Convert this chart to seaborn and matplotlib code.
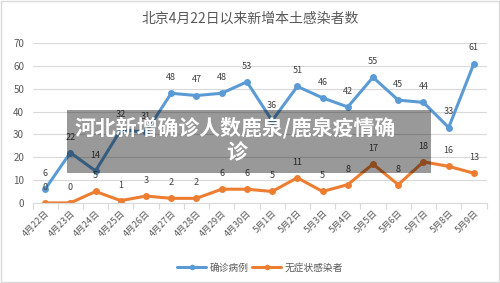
import pandas as pd
import numpy as np
import seaborn as sns
import matplotlib.pyplot as plt
from matplotlib.patches import Rectangle

dates = ['4月22日', '4月23日', '4月24日', '4月25日', '4月26日', '4月27日', '4月28日', '4月29日', '4月30日',
         '5月1日', '5月2日', '5月3日', '5月4日', '5月5日', '5月6日', '5月7日', '5月8日', '5月9日']
confirmed = [6, 22, 14, 32, 31, 48, 47, 48, 53, 36, 51, 46, 42, 55, 45, 44, 33, 61]
asymptomatic = [0, 0, 5, 1, 3, 2, 2, 6, 6, 5, 11, 5, 8, 17, 8, 18, 16, 13]
series_names = ['确诊病例', '无症状感染者']
colors = ['#5B9BD5', '#ED7D31']

sns.set_theme(style='white')
plt.rcParams['font.family'] = ['Noto Sans CJK SC', 'DejaVu Sans']

df = pd.DataFrame({
    'idx': list(range(len(dates))) * 2,
    'value': confirmed + asymptomatic,
    'series': [series_names[0]] * len(dates) + [series_names[1]] * len(dates),
})

fig = plt.figure(figsize=(5, 2.83), dpi=100)
ax = fig.add_axes([0.065, 0.283, 0.908, 0.565])

sns.lineplot(data=df, x='idx', y='value', hue='series', palette=colors,
             marker='o', markersize=5, markeredgewidth=0, linewidth=2.2, ax=ax, legend=False)

for vals, c in zip([confirmed, asymptomatic], colors):
    for i, v in enumerate(vals):
        ax.annotate(str(v), (i, v), xytext=(0, 8), textcoords='offset points',
                    ha='center', va='bottom', fontsize=6.5, color='#404040')

ax.set_xlim(-0.5, len(dates) - 0.5)
ax.set_ylim(0, 70)
ax.set_yticks(range(0, 71, 10))
ax.yaxis.grid(True, color='#D9D9D9', linewidth=0.8)
ax.set_axisbelow(True)
ax.set_xticks(range(len(dates)))
ax.set_xticklabels(dates, rotation=45, ha='right', rotation_mode='anchor', fontsize=6.5, color='#595959')
ax.set_xticks(np.arange(-0.5, len(dates), 1), minor=True)
ax.tick_params(axis='x', which='major', length=0, pad=4)
ax.tick_params(axis='x', which='minor', length=4, color='#D9D9D9', width=0.8, bottom=True)
ax.tick_params(axis='y', length=0, labelsize=7, labelcolor='#595959', pad=6)
ax.set_xlabel('')
ax.set_ylabel('')
for s in ['top', 'right', 'left']:
    ax.spines[s].set_visible(False)
ax.spines['bottom'].set_color('#D9D9D9')
ax.spines['bottom'].set_linewidth(0.8)

fig.text(0.5, 0.935, '北京4月22日以来新增本土感染者数', ha='center', va='center',
         fontsize=10, color='#595959')

handles = [plt.Line2D([], [], color=c, marker='o', markersize=4, linewidth=2.2, markeredgewidth=0)
           for c in colors]
fig.legend(handles, series_names, loc='center', bbox_to_anchor=(0.52, 0.055), ncol=2,
           frameon=False, fontsize=7, handlelength=3, columnspacing=0.4, handletextpad=0.3,
           labelcolor='#595959')

# overlay caption
fig.patches.append(Rectangle((67 / 500, 1 - 173 / 283), (431 - 67) / 500, (173 - 110) / 283,
                             transform=fig.transFigure, facecolor='black', alpha=0.4,
                             edgecolor='none', zorder=10))
fig.text(75 / 500, 1 - 128 / 283, '河北新增确诊人数鹿泉/鹿泉疫情确', ha='left', va='center',
         fontsize=15, fontweight='bold', color='white', zorder=11)
fig.text(237 / 500, 1 - 153 / 283, '诊', ha='center', va='center',
         fontsize=15, fontweight='bold', color='white', zorder=11)

fig.patches.append(Rectangle((0.002, 0.003), 0.996, 0.994, transform=fig.transFigure,
                             facecolor='none', edgecolor='#D9D9D9', linewidth=1))

fig.savefig('out.png', dpi=100)
